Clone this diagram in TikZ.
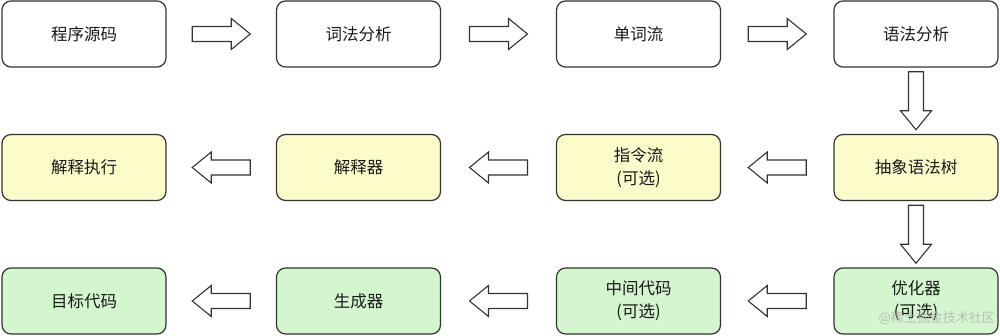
\documentclass[tikz,border=0pt]{standalone}
\usepackage{fontspec}
\setmainfont{Noto Sans CJK SC}
\usetikzlibrary{calc}
\definecolor{edge}{HTML}{333333}
\definecolor{yfill}{HTML}{FCFCCB}
\definecolor{gfill}{HTML}{D3F6CE}
\tikzset{
  stage/.style={draw=edge, line width=1.2pt, rounded corners=9pt, minimum width=164pt, minimum height=66pt,
    align=center, font=\fontsize{16.5}{23}\selectfont, text=black!90, inner sep=0pt},
  plain/.style={stage, fill=white},
  yel/.style={stage, fill=yfill},
  grn/.style={stage, fill=gfill},
  arrowline/.style={draw=edge, line width=1.1pt, fill=white, line join=miter},
  pics/blockarrow/.style={code={
    \draw[arrowline] (-29,-7.5) -- (10,-7.5) -- (10,-15.5) -- (29,0) -- (10,15.5) -- (10,7.5) -- (-29,7.5) -- cycle;}}
}
\begin{document}
\begin{tikzpicture}[x=1pt,y=-1pt]
\useasboundingbox (0,0) rectangle (1000,336);
% row 1
\node[plain] (src) at (84,34) {程序源码};
\node[plain] (lex) at (358.5,34) {词法分析};
\node[plain] (tok) at (638.5,34) {单词流};
\node[plain] (par) at (916,34) {语法分析};
% row 2
\node[yel] (exe) at (84,167.5) {解释执行};
\node[yel] (itp) at (358.5,167.5) {解释器};
\node[yel] (ins) at (638.5,167.5) {指令流\\(可选)};
\node[yel] (ast) at (916,167.5) {抽象语法树};
% row 3
\node[grn] (tgt) at (84,301) {目标代码};
\node[grn] (gen) at (358.5,301) {生成器};
\node[grn] (mid) at (638.5,301) {中间代码\\(可选)};
\node[grn] (opt) at (916,301) {优化器\\(可选)};
% arrows
\pic at ($(src.east)!0.5!(lex.west)$) {blockarrow};
\pic at ($(lex.east)!0.5!(tok.west)$) {blockarrow};
\pic at ($(tok.east)!0.5!(par.west)$) {blockarrow};
\pic[rotate=-90] at ($(par.south)!0.5!(ast.north)$) {blockarrow};
\pic[rotate=180] at ($(ast.west)!0.5!(ins.east)$) {blockarrow};
\pic[rotate=180] at ($(ins.west)!0.5!(itp.east)$) {blockarrow};
\pic[rotate=180] at ($(itp.west)!0.5!(exe.east)$) {blockarrow};
\pic[rotate=-90] at ($(ast.south)!0.5!(opt.north)$) {blockarrow};
\pic[rotate=180] at ($(opt.west)!0.5!(mid.east)$) {blockarrow};
\pic[rotate=180] at ($(mid.west)!0.5!(gen.east)$) {blockarrow};
\pic[rotate=180] at ($(gen.west)!0.5!(tgt.east)$) {blockarrow};
% watermark
\node[text=gray!60, opacity=0.8, font=\fontsize{13}{15}\selectfont, anchor=east, inner sep=0pt] (wm) at (995,318) {@稀土掘金技术社区};
\end{tikzpicture}
\end{document}
